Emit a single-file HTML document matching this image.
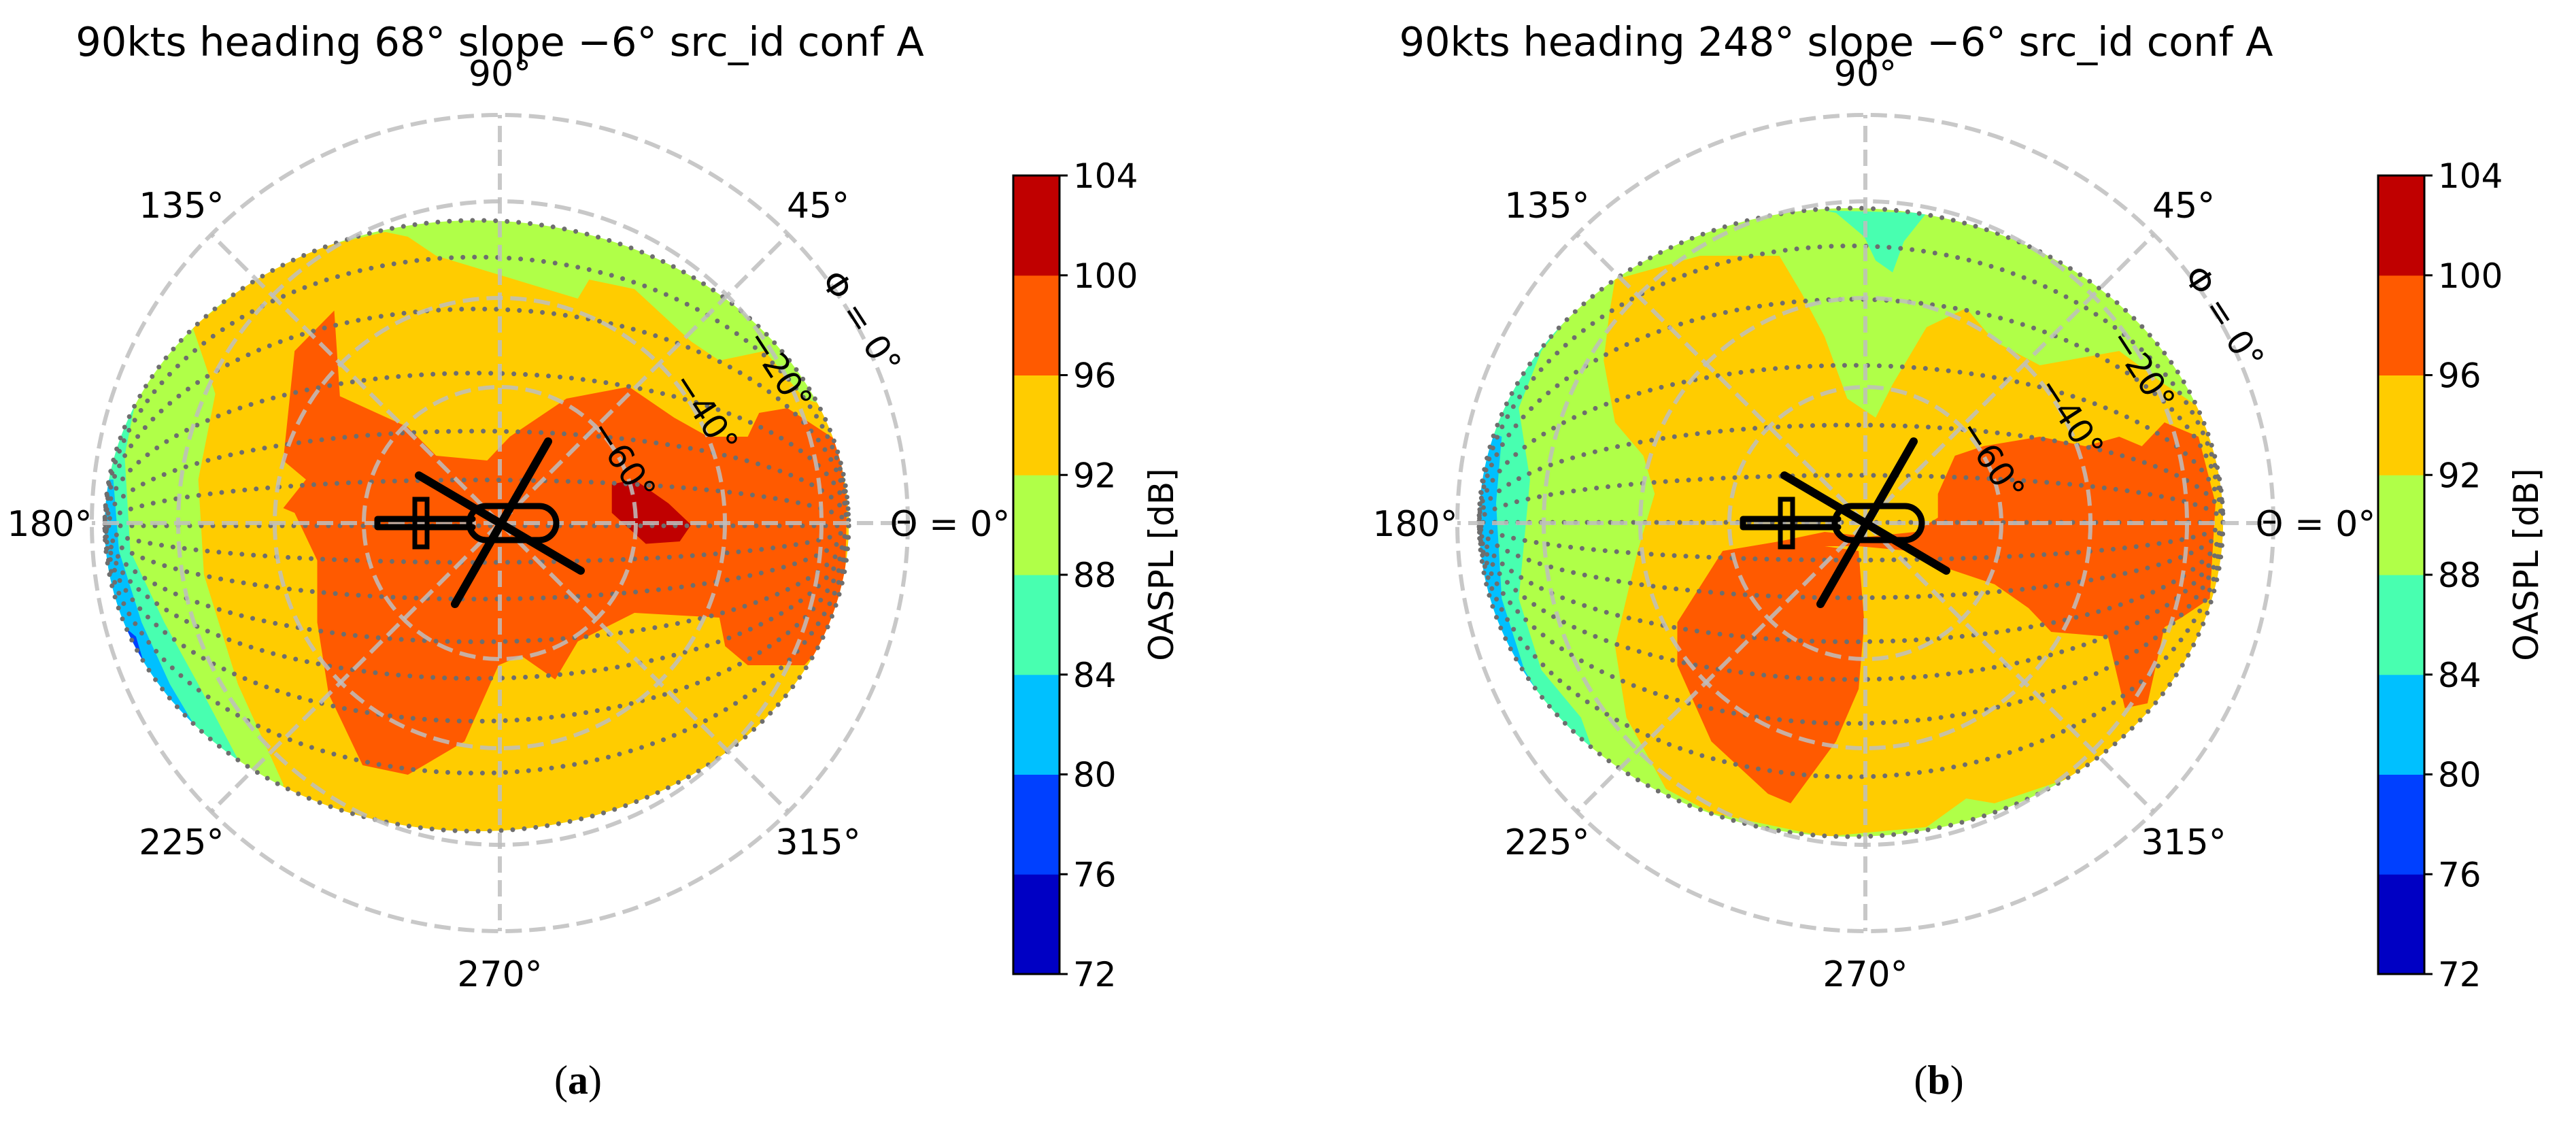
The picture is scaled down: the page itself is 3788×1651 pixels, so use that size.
<!DOCTYPE html>
<html><head><meta charset="utf-8"><style>
html,body{margin:0;padding:0;background:#fff}
svg{display:block}
text{font-family:"DejaVu Sans","Liberation Sans",sans-serif;fill:#000}
</style></head><body>
<svg id="root" width="3788" height="1651" viewBox="0 0 3788 1651" xmlns="http://www.w3.org/2000/svg"></svg>
<script>
const levels=[72,76,80,84,88,92,96,100,104];
const levelColors=['#0000c4','#0040ff','#00c0ff','#48ffb0','#b0ff48','#ffcc00','#ff5a00','#c00000'];
const angleTicks=[0,45,90,135,180,225,270,315];
const phiLabels=['Φ = 0°','−20°','−40°','−60°'];
const arcFractions=[-0.88,-0.71,-0.5,-0.31,-0.15,0,0.12,0.24,0.38,0.5,0.64,0.81];
const titles=['90kts heading 68° slope −6° src_id conf A','90kts heading 248° slope −6° src_id conf A'];
const captions=['a','b'];
const regionsA=[
 [4,[[0,0],[2000,0],[2000,2000],[0,2000]]],
 [3,[[0,300],[210,300],[130,420],[100,600],[110,800],[170,950],[230,1080],[310,1260],[0,1400]]],
 [2,[[0,650],[80,650],[90,800],[130,950],[180,1080],[220,1160],[0,1400]]],
 [1,[[90,950],[120,980],[150,1100],[160,1130],[0,1200]]],
 [5,[[220,330],[380,180],[560,130],[600,140],[650,180],[900,270],[920,230],[1000,250],[1100,360],[1150,400],[1230,380],[1300,480],[1500,560],[1500,1500],[380,1500],[380,1290],[300,1080],[240,850],[230,650],[260,470]]],
 [6,[[470,295],[480,475],[600,540],[650,600],[740,610],[780,560],[880,480],[990,455],[1070,520],[1130,560],[1200,560],[1220,510],[1270,500],[1360,570],[1375,700],[1370,950],[1300,1040],[1200,1040],[1160,1000],[1150,940],[1000,930],[900,990],[860,1070],[800,1020],[760,1040],[700,1200],[600,1270],[520,1250],[460,1100],[440,950],[440,820],[400,720],[380,710],[420,650],[380,610],[400,380]]],
 [7,[[960,660],[1000,650],[1060,700],[1100,745],[1080,780],[1020,785],[960,720]]]
];
const regionsB=[
 [4,[[0,0],[2000,0],[2000,2000],[0,2000]]],
 [3,[[700,85],[880,90],[840,150],[820,215],[790,190],[770,140],[720,90]]],
 [3,[[0,200],[300,230],[200,380],[160,500],[180,650],[160,900],[200,1050],[270,1150],[300,1250],[0,1400]]],
 [2,[[0,500],[130,560],[120,700],[130,900],[170,1050],[230,1170],[0,1400]]],
 [1,[[120,990],[150,1050],[160,1080],[0,1150]]],
 [5,[[330,230],[480,180],[620,180],[660,260],[700,350],[740,480],[790,520],[820,450],[880,330],[950,290],[1000,360],[1080,410],[1220,380],[1300,450],[1390,520],[1405,700],[1400,1000],[1350,1100],[1200,1250],[1000,1330],[950,1320],[880,1380],[700,1400],[500,1350],[420,1300],[350,1150],[330,1000],[370,800],[400,680],[380,600],[330,530],[310,400],[320,300]]],
 [6,[[520,800],[700,790],[760,790],[850,800],[900,830],[1000,870],[1060,920],[1100,970],[1200,980],[1230,1130],[1270,1120],[1300,960],[1330,940],[1380,900],[1390,700],[1360,560],[1300,530],[1260,580],[1220,560],[1160,580],[1080,560],[980,580],[930,600],[900,680],[900,730],[860,760],[780,770],[700,760],[620,780]]],
 [6,[[440,950],[520,800],[620,780],[700,790],[760,800],[770,950],[760,1090],[720,1200],[640,1330],[600,1310],[500,1200],[440,1040]]]
];
const NS='http://www.w3.org/2000/svg';
const root=document.getElementById('root');
function mk(tag,attrs,parent){const e=document.createElementNS(NS,tag);for(const k in attrs)e.setAttribute(k,attrs[k]);(parent||root).appendChild(e);return e;}

const panels=[
 {ox:0,zx:100,zy:250,cx:735,cy:769,ecx:701,ecy:773,erx:547,ery:449,regions:regionsA,titleX:735,
  phiPos:[[1266,474],[1146,544],[1037,607],[916,677]]},
 {ox:2007,zx:2100,zy:250,cx:2743,cy:769,ecx:2722,ecy:768,erx:547,ery:462,regions:regionsB,titleX:2700,
  phiPos:[[3270,467],[3150,544],[3045,614],[2929,677]]}
];
const gridR=[200,331,473,600];
panels.forEach((p,pi)=>{
 const g=mk('g',{});
 
 
 const t=mk('text',{x:p.titleX,y:82,'font-size':59,'text-anchor':'middle'},g);
 t.textContent=titles[pi];
 
 
 const cid='clip'+pi;
 const cp=mk('clipPath',{id:cid},g);
 mk('ellipse',{cx:p.ecx,cy:p.ecy,rx:p.erx,ry:p.ery},cp);
 const cg=mk('g',{'clip-path':'url(#'+cid+')'},g);
 
 
 const tx=x=>p.zx+x*0.833, ty=y=>p.zy+y*0.7;
 p.regions.forEach(([lv,pts])=>{
  const poly=mk('polygon',{points:pts.map(q=>tx(q[0]).toFixed(1)+','+ty(q[1]).toFixed(1)).join(' '),fill:levelColors[lv]},cg);
  
  
 });
 arcFractions.forEach(f=>{
  let d='';
  for(let i=0;i<=60;i++){const s=Math.PI*i/60;const x=p.ecx+p.erx*Math.cos(s);const y=p.ecy+p.ery*f*Math.sin(s);d+=(i?'L':'M')+x.toFixed(1)+' '+y.toFixed(1);}
  const a=mk('path',{d:d,fill:'none',stroke:'#6e6e6e','stroke-width':7,'stroke-dasharray':'0 17','stroke-linecap':'round'},g);
  
  
 });
 const eb=mk('ellipse',{cx:p.ecx,cy:p.ecy,rx:p.erx,ry:p.ery,fill:'none',stroke:'#6e6e6e','stroke-width':7,'stroke-dasharray':'0 17','stroke-linecap':'round'},g);
 
 
 gridR.forEach(r=>{
  const c=mk('circle',{cx:p.cx,cy:p.cy,r:r,fill:'none',stroke:'rgba(190,190,190,0.85)','stroke-width':6,'stroke-dasharray':'24 11'},g);
  
  
 });
 angleTicks.forEach(a=>{
  const rad=a*Math.PI/180;
  const l=mk('line',{x1:p.cx,y1:p.cy,x2:p.cx+600*Math.cos(rad),y2:p.cy-600*Math.sin(rad),stroke:'rgba(190,190,190,0.85)','stroke-width':6,'stroke-dasharray':'24 11'},g);
  
  
  const lt=mk('text',{x:p.cx+662*Math.cos(rad),y:p.cy-662*Math.sin(rad)+19,'font-size':52,'text-anchor':'middle'},g);
  lt.textContent=a===0?'Θ = 0°':a+'°';
  
  
 });
 phiLabels.forEach((s,i)=>{
  const [x,y]=p.phiPos[i];
  const pt=mk('text',{x:x,y:y+17,'font-size':50,'text-anchor':'middle',transform:'rotate(57 '+x+' '+y+')'},g);
  pt.textContent=s;
  
  
 });
 const h=mk('g',{fill:'none',stroke:'#000','stroke-width':9,'stroke-linecap':'round'},g);
 
 
 const hx=p.cx, hy=p.cy;
 mk('path',{d:`M${hx-180} ${hy-6} L${hx-40} ${hy-6} M${hx-180} ${hy+6} L${hx-40} ${hy+6} M${hx-180} ${hy-6} L${hx-180} ${hy+6}`},h);
 mk('rect',{x:hx-125,y:hy-35,width:18,height:70,'stroke-width':7},h);
 mk('rect',{x:hx-45,y:hy-25,width:128,height:50,rx:25,'stroke-width':9},h);
 mk('line',{x1:hx-119,y1:hy-70,x2:hx+119,y2:hy+70,'stroke-width':12},h);
 mk('line',{x1:hx+71,y1:hy-120,x2:hx-66,y2:hy+119,'stroke-width':12},h);
 const cbx=1490+p.ox, cbw=68, cbt=258, cbb=1432;
 const segH=(cbb-cbt)/(levels.length-1);
 const cb=mk('g',{},g);
 
 
 levelColors.forEach((col,i)=>{
  const r=mk('rect',{x:cbx,y:cbb-(i+1)*segH,width:cbw,height:segH+0.5,fill:col},cb);
  
  
 });
 mk('rect',{x:cbx,y:cbt,width:cbw,height:cbb-cbt,fill:'none',stroke:'#000','stroke-width':3},cb);
 levels.forEach((v,i)=>{
  const y=cbb-i*segH;
  mk('line',{x1:cbx+cbw,y1:y,x2:cbx+cbw+12,y2:y,stroke:'#000','stroke-width':3},cb);
  const tl=mk('text',{x:cbx+cbw+20,y:y+18,'font-size':50},cb);
  tl.textContent=v;
  
  
 });
 const lx=1725+p.ox, ly=830;
 const cl=mk('text',{x:lx,y:ly,'font-size':50,'text-anchor':'middle',transform:'rotate(-90 '+lx+' '+ly+')'},cb);
 cl.textContent='OASPL [dB]';
 
 
 const cap=mk('text',{x:850+p.ox+(pi?-6:0),y:1608,'font-size':60,'text-anchor':'middle',style:'font-family:"Liberation Serif",serif'},g);
 cap.innerHTML='(<tspan font-weight="bold">'+captions[pi]+'</tspan>)';
 
 
});
</script>
</body></html>
